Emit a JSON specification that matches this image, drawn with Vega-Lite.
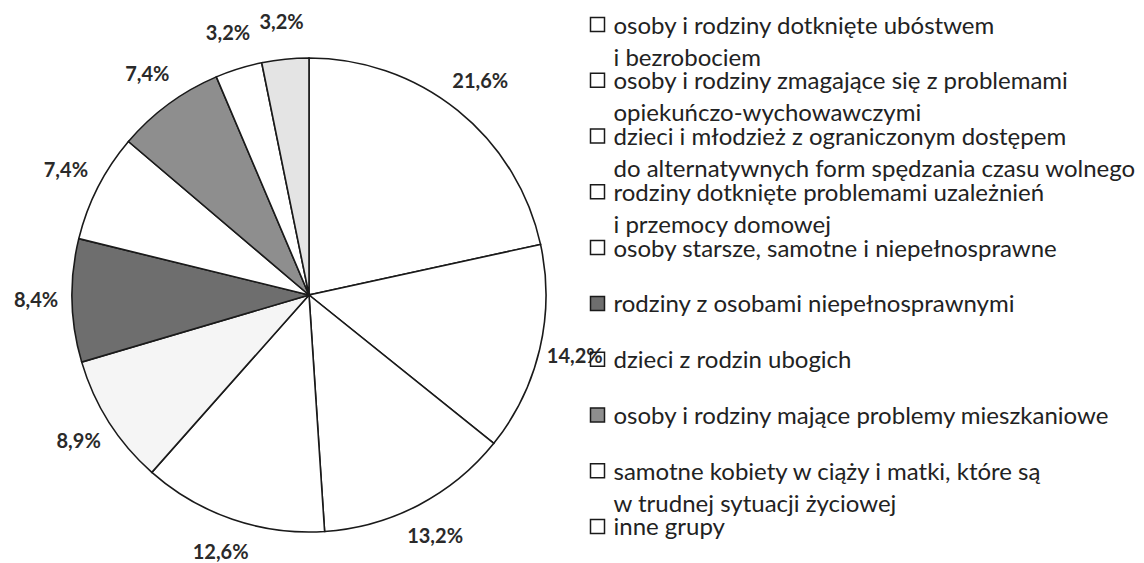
{
  "$schema": "https://vega.github.io/schema/vega-lite/v6.json",
  "padding": 0,
  "autosize": {"type": "pad"},
  "bounds": "flush",
  "background": "white",
  "spacing": 0,
  "config": {"view": {"stroke": null}, "text": {"font": "Lato"}},
  "datasets": {
    "groups": [
      {"idx": 1, "name": "osoby i rodziny dotknięte ubóstwem|i bezrobociem", "value": 21.6, "pct": "21,6%"},
      {"idx": 2, "name": "osoby i rodziny zmagające się z problemami|opiekuńczo-wychowawczymi", "value": 14.2, "pct": "14,2%"},
      {"idx": 3, "name": "dzieci i młodzież z ograniczonym dostępem|do alternatywnych form spędzania czasu wolnego", "value": 13.2, "pct": "13,2%"},
      {"idx": 4, "name": "rodziny dotknięte problemami uzależnień|i przemocy domowej", "value": 12.6, "pct": "12,6%"},
      {"idx": 5, "name": "osoby starsze, samotne i niepełnosprawne", "value": 8.9, "pct": "8,9%"},
      {"idx": 6, "name": "rodziny z osobami niepełnosprawnymi", "value": 8.4, "pct": "8,4%"},
      {"idx": 7, "name": "dzieci z rodzin ubogich", "value": 7.4, "pct": "7,4%"},
      {"idx": 8, "name": "osoby i rodziny mające problemy mieszkaniowe", "value": 7.4, "pct": "7,4%"},
      {"idx": 9, "name": "samotne kobiety w ciąży i matki, które są|w trudnej sytuacji życiowej", "value": 3.2, "pct": "3,2%"},
      {"idx": 10, "name": "inne grupy", "value": 3.2, "pct": "3,2%"}
    ]
  },
  "hconcat": [
    {
      "width": 590,
      "height": 563,
      "data": {"name": "groups"},
      "encoding": {
        "theta": {"field": "value", "type": "quantitative", "stack": true},
        "order": {"field": "idx", "type": "quantitative"}
      },
      "layer": [
        {
          "mark": {"type": "arc", "outerRadius": 237, "stroke": "#1a1a1a", "strokeWidth": 1.6, "xOffset": 14, "yOffset": 13.5},
          "encoding": {
            "color": {
              "field": "name", "type": "nominal", "legend": null,
              "scale": {
                "domain": [
                  "osoby i rodziny dotknięte ubóstwem|i bezrobociem",
                  "osoby i rodziny zmagające się z problemami|opiekuńczo-wychowawczymi",
                  "dzieci i młodzież z ograniczonym dostępem|do alternatywnych form spędzania czasu wolnego",
                  "rodziny dotknięte problemami uzależnień|i przemocy domowej",
                  "osoby starsze, samotne i niepełnosprawne",
                  "rodziny z osobami niepełnosprawnymi",
                  "dzieci z rodzin ubogich",
                  "osoby i rodziny mające problemy mieszkaniowe",
                  "samotne kobiety w ciąży i matki, które są|w trudnej sytuacji życiowej",
                  "inne grupy"
                ],
                "range": ["#ffffff", "#ffffff", "#ffffff", "#ffffff", "#f5f5f5", "#6e6e6e", "#ffffff", "#8e8e8e", "#ffffff", "#e4e4e4"]
              }
            }
          }
        },
        {
          "mark": {"type": "text", "radius": 273, "xOffset": 14, "yOffset": 13.5, "fontSize": 20, "fontWeight": "bold", "color": "#2a2a2a"},
          "encoding": {"text": {"field": "pct", "type": "nominal"}}
        }
      ]
    },
    {
      "width": 15,
      "height": 551,
      "data": {"name": "groups"},
      "encoding": {
        "y": {"field": "idx", "type": "ordinal", "scale": {"type": "point", "padding": 0.44}, "axis": null}
      },
      "layer": [
        {
          "mark": {"type": "point", "shape": "square", "size": 196, "filled": true, "stroke": "#1a1a1a", "strokeWidth": 1.5, "opacity": 1},
          "encoding": {
            "fill": {
              "field": "name", "type": "nominal", "legend": null,
              "scale": {
                "domain": [
                  "osoby i rodziny dotknięte ubóstwem|i bezrobociem",
                  "osoby i rodziny zmagające się z problemami|opiekuńczo-wychowawczymi",
                  "dzieci i młodzież z ograniczonym dostępem|do alternatywnych form spędzania czasu wolnego",
                  "rodziny dotknięte problemami uzależnień|i przemocy domowej",
                  "osoby starsze, samotne i niepełnosprawne",
                  "rodziny z osobami niepełnosprawnymi",
                  "dzieci z rodzin ubogich",
                  "osoby i rodziny mające problemy mieszkaniowe",
                  "samotne kobiety w ciąży i matki, które są|w trudnej sytuacji życiowej",
                  "inne grupy"
                ],
                "range": ["transparent", "transparent", "transparent", "transparent", "transparent", "#6e6e6e", "transparent", "#8e8e8e", "transparent", "transparent"]
              }
            }
          }
        },
        {
          "mark": {"type": "text", "align": "left", "baseline": "top", "dx": 16, "dy": -10, "fontSize": 24, "lineBreak": "|", "lineHeight": 32, "color": "#222222"},
          "encoding": {"text": {"field": "name", "type": "nominal"}}
        }
      ]
    }
  ]
}
